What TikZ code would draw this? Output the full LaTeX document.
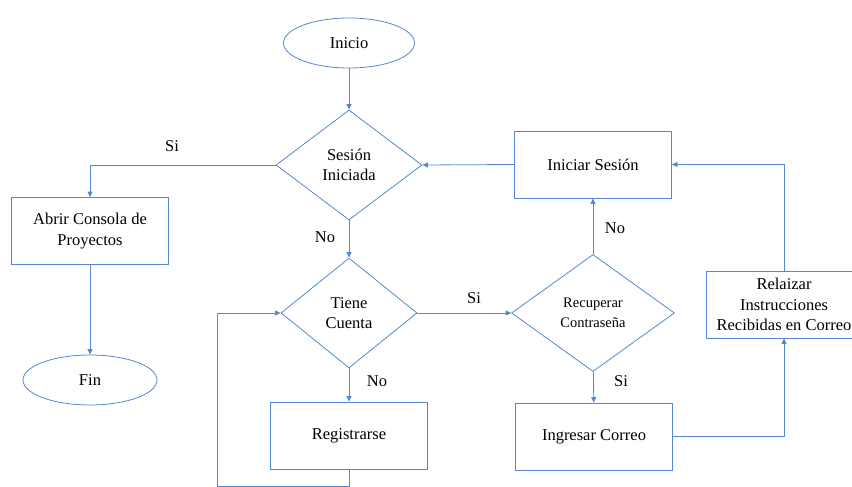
\documentclass[tikz,border=0pt]{standalone}
\usepackage{fontspec}
\setmainfont{Liberation Serif}
\usetikzlibrary{shapes.geometric,arrows.meta}
\definecolor{fblue}{RGB}{86,136,210}
\begin{document}
\begin{tikzpicture}[x=1pt,y=-1pt,
  every node/.style={font=\fontsize{16.5}{20.5}\selectfont, align=center, inner sep=0pt},
  box/.style={draw=fblue, line width=0.8pt, fill=white, rectangle, minimum width=157pt, minimum height=67pt},
  oval/.style={draw=fblue, line width=0.8pt, fill=white, ellipse, minimum width=131pt, minimum height=50pt},
  decis/.style={draw=fblue, line width=0.8pt, fill=white, diamond},
  conn/.style={draw=fblue, line width=0.8pt, -{Triangle[length=5.5pt,width=5pt]}},
  lbl/.style={font=\fontsize{16.5}{18}\selectfont}
]
\useasboundingbox (0,0) rectangle (852,487);

\node[oval] (inicio) at (349,43) {Inicio};
\node[decis, minimum width=146pt, minimum height=110pt] (sesion) at (349,165) {Sesión\\Iniciada};
\node[box] (abrir) at (90,231) {Abrir Consola de\\Proyectos};
\node[oval, minimum width=134pt] (fin) at (90,380) {Fin};
\node[decis, minimum width=136pt, minimum height=110pt] (tiene) at (349,313) {Tiene\\Cuenta};
\node[box] (registro) at (349,435.5) {Registrarse};
\node[decis, minimum width=163pt, minimum height=117pt, font=\fontsize{14.5}{20}\selectfont] (recup) at (593,313) {Recuperar\\Contraseña};
\node[box] (iniciar) at (593,164.5) {Iniciar Sesión};
\node[box] (ingresar) at (594,436.5) {Ingresar Correo};
\node[box, minimum width=156pt] (relaizar) at (784,304.5) {Relaizar\\Instrucciones\\Recibidas en Correo};

\coordinate (lp) at (217,486);

\draw[conn] (inicio) -- (sesion.north);
\draw[conn] (sesion.west) -| (abrir.north);
\draw[conn] (abrir) -- (fin);
\draw[conn] (sesion) -- (tiene);
\draw[conn] (tiene.east) -- (recup.west);
\draw[conn] (tiene) -- (registro);
\draw[conn] (registro.south) |- (lp) |- (tiene.west);
\draw[conn] (recup) -- (iniciar);
\draw[conn] (recup) -- (ingresar);
\draw[conn] (iniciar.west) -- (sesion.east);
\draw[conn] (ingresar.east) -| (relaizar.south);
\draw[conn] (relaizar.north) |- (iniciar.east);

\node[lbl] (l1) at (172,146) {Si};
\node[lbl] (l2) at (325,237) {No};
\node[lbl] (l3) at (474,298) {Si};
\node[lbl] (l4) at (377,381) {No};
\node[lbl] (l5) at (615,228) {No};
\node[lbl] (l6) at (621,381) {Si};
\end{tikzpicture}
\end{document}
